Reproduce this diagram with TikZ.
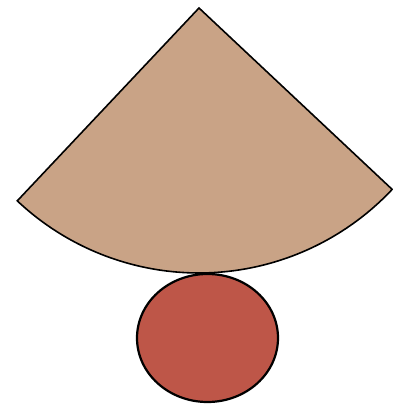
\documentclass[tikz,border=0pt]{standalone}
\usetikzlibrary{shapes.geometric}
\definecolor{sectorfill}{RGB}{201,163,134}
\definecolor{ballfill}{RGB}{190,86,72}
\begin{document}
\begin{tikzpicture}[x=1pt,y=1pt,
  sectorstyle/.style={draw=black,line width=1.6pt,fill=sectorfill,line join=miter},
  ballstyle/.style={draw=black,line width=2.2pt,fill=ballfill}]
\useasboundingbox (0,0) rectangle (393,405);
\coordinate (apex) at (199,397);
\draw[sectorstyle] (apex) -- ++(226.7:265) arc (226.7:316.8:265) -- cycle;
\node[ballstyle,ellipse,minimum width=141pt,minimum height=128pt,inner sep=0pt] (ball) at (207.5,67) {};
\end{tikzpicture}
\end{document}
